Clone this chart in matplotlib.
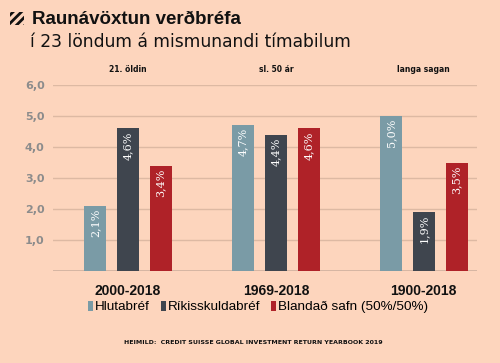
import matplotlib
matplotlib.use("Agg")
import matplotlib.pyplot as plt
from matplotlib.patches import Rectangle
import numpy as np

periods = ["2000-2018", "1969-2018", "1900-2018"]
period_notes = ["21. öldin", "sl. 50 ár", "langa sagan"]
series_names = ["Hlutabréf", "Ríkisskuldabréf", "Blandað safn (50%/50%)"]
hlutabref = [2.1, 4.7, 5.0]
rikisskuldabref = [4.6, 4.4, 1.9]
blandad = [3.4, 4.6, 3.5]
y_ticks = [1.0, 2.0, 3.0, 4.0, 5.0, 6.0]
y_tick_labels = ["1,0", "2,0", "3,0", "4,0", "5,0", "6,0"]

BG = "#FDD5BD"
colors = ["#7A9BA6", "#3F454E", "#AF2228"]
GRID = "#DDB9A3"

plt.rcParams["hatch.linewidth"] = 2.0
plt.rcParams["hatch.color"] = "#111111"

fig = plt.figure(figsize=(5.0, 3.63), dpi=100, facecolor=BG)
ax = fig.add_axes([0.106, 0.2534, 0.848, 0.5124])
ax.set_facecolor(BG)

x = np.arange(len(periods))
w = 0.148
off = 0.222
all_series = [hlutabref, rikisskuldabref, blandad]
for i, (vals, c, name) in enumerate(zip(all_series, colors, series_names)):
    bars = ax.bar(x + (i - 1) * off, vals, width=w, color=c, label=name, zorder=3)
    for b, v in zip(bars, vals):
        ax.annotate(f"{v:.1f}%".replace(".", ","),
                    (b.get_x() + b.get_width() / 2, b.get_height()),
                    xytext=(0, -2), textcoords="offset points",
                    rotation=90, ha="center", va="top", color="white",
                    fontsize=8, family="DejaVu Serif", zorder=4)

ax.set_xlim(-0.507, 2.36)
ax.set_ylim(0, 6.0)
ax.set_yticks(y_ticks)
ax.set_yticklabels(y_tick_labels, fontsize=8, fontweight="bold", color="#8C8C8C",
                   family="DejaVu Sans")
ax.tick_params(axis="y", length=0, pad=6)
ax.set_xticks(x)
ax.set_xticklabels(periods, fontsize=10, fontweight="bold", family="Liberation Sans",
                   color="#111111")
ax.tick_params(axis="x", length=0, pad=9)
ax.grid(axis="y", color=GRID, lw=1.0, zorder=0)
ax.axhline(0, color="#CFB09E", lw=1.2, zorder=2)
for s in ax.spines.values():
    s.set_visible(False)

for xi, note in zip(x, period_notes):
    ax.text(xi, 6.5, note, ha="center", va="center", fontsize=5.5,
            fontweight="bold", family="DejaVu Sans", color="#111111", clip_on=False)

leg = ax.legend(loc="center", bbox_to_anchor=(258 / 500, 1 - 307 / 363),
                bbox_transform=fig.transFigure, ncol=3, frameon=False,
                handlelength=0.38, handleheight=0.8, handletextpad=0.15,
                columnspacing=0.8, prop={"family": "Liberation Sans", "size": 9.7})

# title icon
fig.add_artist(Rectangle((10 / 500, 1 - 25 / 363), 14 / 500, 13 / 363,
                         transform=fig.transFigure, facecolor="none",
                         edgecolor="#111111", hatch="////", lw=0))

fig.text(32 / 500, 1 - 19 / 363, "Raunávöxtun verðbréfa", fontsize=13.5,
         fontweight="heavy", family="Liberation Sans", va="center", color="#111111")
fig.text(30 / 500, 1 - 42 / 363, "í 23 löndum á mismunandi tímabilum", fontsize=12.3,
         family="DejaVu Sans", va="center", color="#111111")
fig.text(253 / 500, 1 - 342 / 363,
         "HEIMILD:  CREDIT SUISSE GLOBAL INVESTMENT RETURN YEARBOOK 2019",
         fontsize=4.5, fontweight="bold", family="Liberation Sans Narrow",
         ha="center", va="center", color="#111111")

fig.savefig("out.png", dpi=100, facecolor=BG)
